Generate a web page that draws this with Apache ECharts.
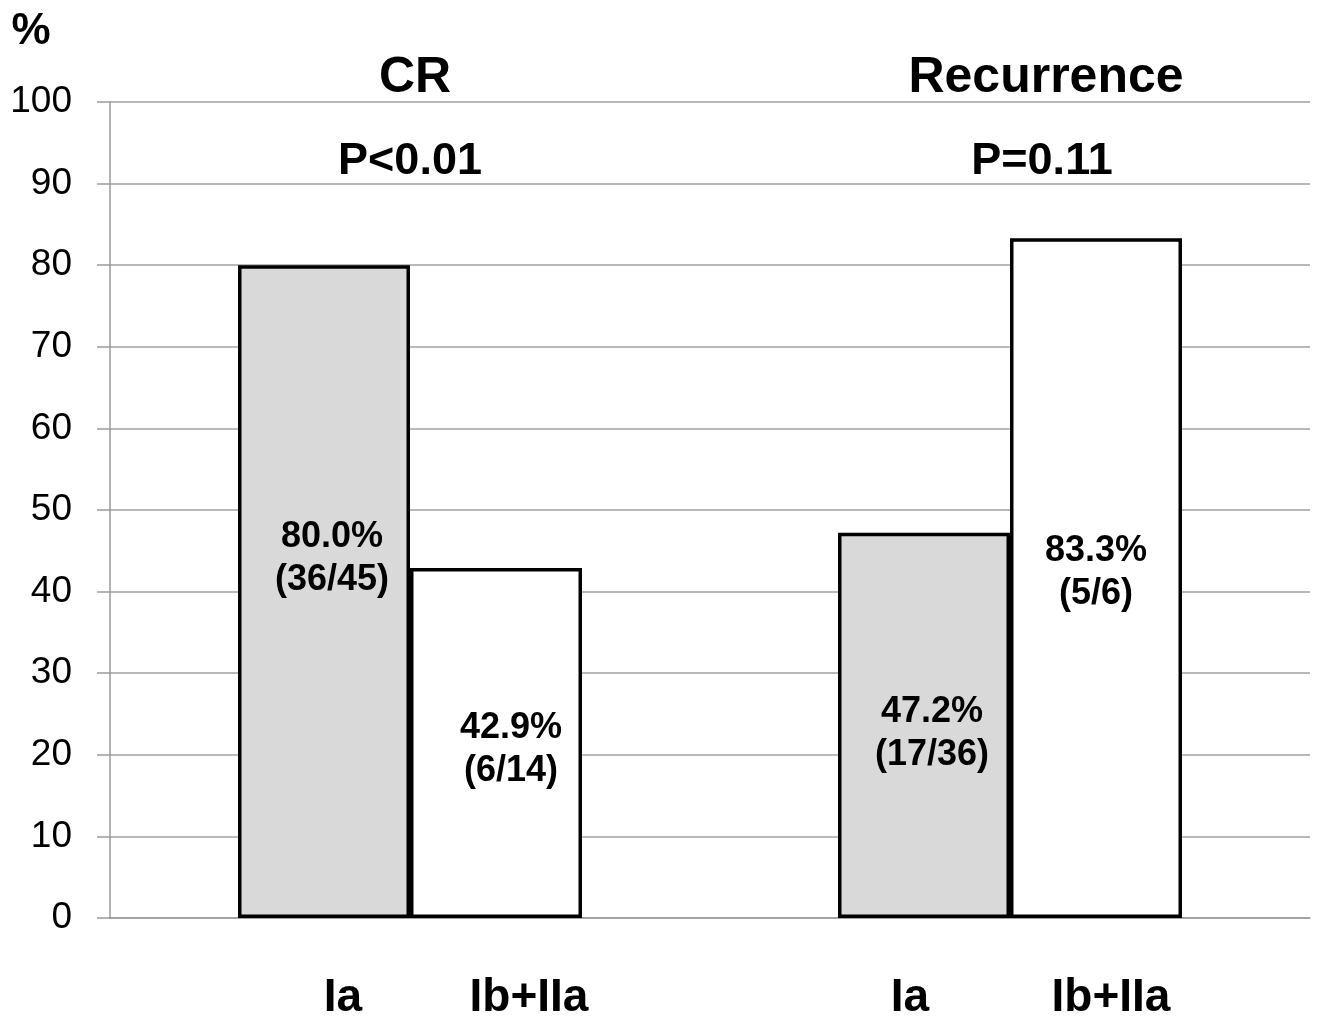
<!DOCTYPE html>
<html>
<head>
<meta charset="utf-8">
<script src="https://cdn.jsdelivr.net/npm/echarts@6/dist/echarts.min.js"></script>
<style>
html,body{margin:0;padding:0;background:#fff;}
#chart{width:1323px;height:1025px;}
</style>
</head>
<body>
<div id="chart"></div>
<script>
const categories = ['CR', 'Recurrence'];
const pValues = ['P<0.01', 'P=0.11'];
const seriesNames = ['Ia', 'Ib+IIa'];
const iaValues = [80.0, 47.2];
const ibValues = [42.9, 83.3];
const iaCounts = ['36/45', '17/36'];
const ibCounts = ['6/14', '5/6'];
const yTicks = [0, 10, 20, 30, 40, 50, 60, 70, 80, 90, 100];

const FONT = '"Liberation Sans", Arial, sans-serif';
const iaLabelOffsets = [[8, -33], [8, 8]];
const ibLabelOffsets = [[15, 7], [0, -6]];

function makeData(values, counts, offsets) {
  return values.map((v, i) => ({
    value: v,
    count: counts[i],
    label: { offset: offsets[i] }
  }));
}

const chart = echarts.init(document.getElementById('chart'));
const labelStyle = {
  show: true,
  position: 'inside',
  color: '#000',
  fontFamily: FONT,
  fontWeight: 'bold',
  fontSize: 36,
  lineHeight: 43,
  formatter: p => p.value.toFixed(1) + '%\n(' + p.data.count + ')'
};

const option = {
  backgroundColor: '#fff',
  animation: false,
  grid: { left: 110, right: 13, top: 102, bottom: 107 },
  xAxis: {
    type: 'category',
    data: categories,
    axisLine: { show: true, lineStyle: { color: '#9a9a9a', width: 1.5 } },
    axisTick: { show: false },
    axisLabel: { show: false }
  },
  yAxis: {
    type: 'value',
    min: yTicks[0],
    max: yTicks[yTicks.length - 1],
    interval: 10,
    axisLine: { show: true, lineStyle: { color: '#9a9a9a', width: 1.5 } },
    axisTick: { show: true, length: 13, lineStyle: { color: '#9a9a9a', width: 1.5 } },
    axisLabel: { color: '#000', fontFamily: FONT, fontSize: 37, margin: 38 },
    splitLine: { show: true, lineStyle: { color: '#a0a0a0', width: 1.5 } }
  },
  series: [
    {
      name: seriesNames[0],
      type: 'bar',
      barWidth: 172,
      barGap: '0%',
      data: makeData(iaValues, iaCounts, iaLabelOffsets),
      itemStyle: { color: '#d9d9d9', borderColor: '#000', borderWidth: 3.5 },
      label: labelStyle
    },
    {
      name: seriesNames[1],
      type: 'bar',
      barWidth: 172,
      barGap: '0%',
      data: makeData(ibValues, ibCounts, ibLabelOffsets),
      itemStyle: { color: '#ffffff', borderColor: '#000', borderWidth: 3.5 },
      label: labelStyle
    }
  ],
  graphic: [
    { type: 'text', x: 31, y: 32, style: { text: '%', font: 'bold 44px ' + FONT, fill: '#000', align: 'center', verticalAlign: 'middle' } },
    { type: 'text', x: 415, y: 78, style: { text: categories[0], font: 'bold 50px ' + FONT, fill: '#000', align: 'center', verticalAlign: 'middle' } },
    { type: 'text', x: 1046, y: 78, style: { text: categories[1], font: 'bold 50px ' + FONT, fill: '#000', align: 'center', verticalAlign: 'middle' } },
    { type: 'text', x: 410, y: 162, style: { text: pValues[0], font: 'bold 45px ' + FONT, fill: '#000', align: 'center', verticalAlign: 'middle' } },
    { type: 'text', x: 1042, y: 162, style: { text: pValues[1], font: 'bold 45px ' + FONT, fill: '#000', align: 'center', verticalAlign: 'middle' } },
    { type: 'text', x: 343, y: 998, style: { text: seriesNames[0], font: 'bold 46px ' + FONT, fill: '#000', align: 'center', verticalAlign: 'middle' } },
    { type: 'text', x: 529, y: 998, style: { text: seriesNames[1], font: 'bold 46px ' + FONT, fill: '#000', align: 'center', verticalAlign: 'middle' } },
    { type: 'text', x: 910, y: 998, style: { text: seriesNames[0], font: 'bold 46px ' + FONT, fill: '#000', align: 'center', verticalAlign: 'middle' } },
    { type: 'text', x: 1111, y: 998, style: { text: seriesNames[1], font: 'bold 46px ' + FONT, fill: '#000', align: 'center', verticalAlign: 'middle' } }
  ]
};
chart.setOption(option);
</script>
</body>
</html>
